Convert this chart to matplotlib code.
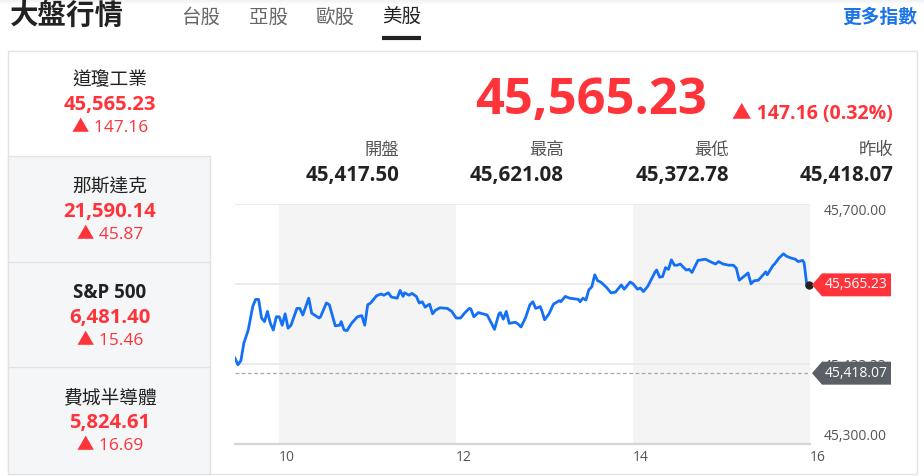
import numpy as np
import matplotlib
matplotlib.use('Agg')
import matplotlib.pyplot as plt
from matplotlib.patches import Rectangle, Polygon

plt.rcParams['font.family'] = ['Noto Sans CJK TC', 'DejaVu Sans']
NUM_FONT = ['Open Sans', 'Noto Sans CJK TC', 'DejaVu Sans']

# ---- data ----
tabs = ['台股', '亞股', '歐股', '美股']
index_names = ['道瓊工業', '那斯達克', 'S&P 500', '費城半導體']
index_values = ['45,565.23', '21,590.14', '6,481.40', '5,824.61']
index_changes = ['147.16', '45.87', '15.46', '16.69']

last_price = 45565.23
change_text = '147.16 (0.32%)'
stat_labels = ['開盤', '最高', '最低', '昨收']
stat_values = [45417.50, 45621.08, 45372.78, 45418.07]
prev_close = 45418.07

# minutes after 9:30 and index level
minutes = [0, 2, 4, 6, 9, 12, 14, 16, 18, 20, 22, 24, 26, 28, 30, 32, 34, 36, 38, 42,
           44, 46, 50, 52, 57, 58, 62, 64, 68, 71, 72, 74, 76, 79, 83, 86, 88, 90, 92, 96,
           99, 101, 104, 106, 110, 112, 114, 115, 118, 120, 123, 125, 127, 129, 130, 132, 134, 136, 139, 144,
           147, 150, 153, 156, 159, 160, 162, 165, 168, 171, 174, 176, 179, 180, 182, 184, 186, 190, 192, 194,
           197, 200, 202, 204, 207, 208, 210, 213, 216, 220, 221, 224, 227, 233, 234, 236, 238, 240, 242, 244,
           246, 248, 252, 255, 258, 262, 264, 268, 270, 273, 275, 277, 280, 285, 286, 288, 290, 292, 294, 296,
           298, 300, 302, 306, 308, 310, 314, 319, 324, 326, 328, 331, 335, 338, 340, 342, 348, 350, 352, 355,
           360, 361, 365, 366, 369, 372, 374, 377, 380, 382, 385, 386, 388, 389]
levels = [45443, 45432, 45439, 45468, 45490, 45529, 45541, 45541, 45510, 45504, 45521, 45501, 45490, 45512, 45512, 45498, 45517, 45493, 45498, 45526,
          45526, 45515, 45543, 45518, 45510, 45512, 45535, 45532, 45497, 45498, 45504, 45490, 45489, 45501, 45512, 45514, 45498, 45532, 45535, 45547,
          45550, 45548, 45552, 45545, 45543, 45556, 45546, 45552, 45548, 45551, 45546, 45535, 45537, 45528, 45530, 45533, 45517, 45523, 45527, 45526,
          45521, 45510, 45510, 45519, 45526, 45525, 45512, 45519, 45517, 45515, 45501, 45491, 45517, 45519, 45508, 45521, 45501, 45503, 45500, 45495,
          45510, 45532, 45537, 45526, 45529, 45523, 45507, 45517, 45533, 45539, 45537, 45546, 45543, 45541, 45537, 45543, 45540, 45557, 45562, 45582,
          45572, 45570, 45561, 45552, 45553, 45565, 45558, 45570, 45567, 45558, 45560, 45554, 45563, 45587, 45590, 45578, 45579, 45594, 45591, 45607,
          45598, 45598, 45600, 45590, 45591, 45586, 45606, 45608, 45602, 45600, 45604, 45600, 45598, 45598, 45593, 45573, 45585, 45567, 45572, 45573,
          45587, 45582, 45598, 45600, 45610, 45617, 45613, 45610, 45608, 45604, 45606, 45602, 45562, 45565.23]

y_ticks = [45300, 45433.33, 45566.67, 45700]
x_ticks = [10, 12, 14, 16]
shaded = [(10, 12), (14, 16)]

RED = '#ff333a'
BLUE = '#1470f5'
DARK = '#222222'
GREY = '#555555'

W, H = 924, 476
fig = plt.figure(figsize=(W / 100, H / 100), dpi=100)

# ---- chart ----
ax = fig.add_axes([235 / W, 32 / H, 575 / W, 240 / H])
hours = 9.5 + np.array(minutes) / 60.0
ax.set_xlim(9.5, 16)
ax.set_ylim(45300, 45700)
for a, b in shaded:
    ax.axvspan(a, b, color='#f4f4f4', lw=0, zorder=0)
for v in y_ticks[1:]:
    ax.axhline(v, color='#e8e8e8', lw=1.2, zorder=1)
ax.axhline(prev_close, color='#aaaaaa', lw=0.9, ls=(0, (3, 2)), zorder=2)
ax.plot(hours, levels, color=BLUE, lw=2, zorder=3, solid_joinstyle='round')
ax.plot(hours[-1], levels[-1], 'o', color=DARK, ms=5, zorder=4, clip_on=False)

for s in ['top', 'left', 'right']:
    ax.spines[s].set_visible(False)
ax.spines['bottom'].set_color('#d4d4dc')
ax.spines['bottom'].set_linewidth(1.6)
ax.set_xticks(x_ticks)
ax.set_xticklabels([str(t) for t in x_ticks], ha='left', family=NUM_FONT)
ax.yaxis.tick_right()
ax.set_yticks(y_ticks)
# the 45,566.67 label sits fully behind the red price tag
ax.set_yticklabels([f'{v:,.2f}' if v != 45566.67 else '' for v in y_ticks], family=NUM_FONT)
ylabels = ax.get_yticklabels()
ylabels[0].set_va('bottom')
ylabels[-1].set_va('top')
ax.tick_params(axis='x', length=0, pad=4, labelsize=10, labelcolor=GREY)
ax.tick_params(axis='y', length=0, pad=10, labelsize=10, labelcolor=GREY)
ax.patch.set_alpha(0)

# ---- page overlay in pixel coordinates (y downwards) ----
ov = fig.add_axes([0, 0, 1, 1], zorder=-1)
ov.set_xlim(0, W)
ov.set_ylim(H, 0)
ov.axis('off')

# top shadow
for i in range(4):
    ov.add_patch(Rectangle((0, i), W, 1, color='#000000', alpha=0.05 - i * 0.012, lw=0))

ov.text(10, 16, '大盤行情', fontsize=20.5, fontweight='bold', color=DARK, va='center', ha='left')
tab_x = [201, 268, 335, 402]
for t, x in zip(tabs, tab_x):
    ov.text(x, 17, t, fontsize=14, color=DARK if t == '美股' else '#666666', va='center', ha='center')
ov.plot([382, 421], [38, 38], color=DARK, lw=3, solid_capstyle='butt')
ov.text(917, 17, '更多指數', fontsize=13.5, fontweight='bold', color='#1a73e8', va='center', ha='right')

# card
ov.add_patch(Rectangle((8, 51), 909, 423, facecolor='white', edgecolor='#e3e3e3', lw=1))
ov.add_patch(Rectangle((8, 156), 202, 318, facecolor='#f5f6f8', edgecolor='#e0e2e6', lw=1))
for y in [262, 367]:
    ov.plot([8, 210], [y, y], color='#e0e2e6', lw=1)

rows_y = [80, 187, 293, 398]
for name, val, chg, y in zip(index_names, index_values, index_changes, rows_y):
    if name == 'S&P 500':
        ov.text(110, y, name, fontsize=13.5, color=DARK, ha='center', va='center',
                fontweight='bold', family=NUM_FONT)
    else:
        ov.text(110, y, name, fontsize=13.5, color=DARK, ha='center', va='center')
    ov.text(110, y + 25, val, fontsize=14.6, fontweight='bold', color=RED, ha='center', va='center',
            family=NUM_FONT)
    ov.text(110, y + 48, '▲ ' + chg, fontsize=12.5, color=RED, ha='center', va='center', family=NUM_FONT)

ov.text(591, 101, f'{last_price:,.2f}', fontsize=36.5, fontweight='bold', color=RED, ha='center', va='center',
        family=NUM_FONT)
ov.text(893, 114, '▲ ' + change_text, fontsize=14, fontweight='bold', color=RED, ha='right', va='center',
        family=NUM_FONT)

col_right = [399, 564, 729, 893]
for lab, val, x in zip(stat_labels, stat_values, col_right):
    ov.text(x, 150, lab, fontsize=12.5, color=GREY, ha='right', va='center')
    ov.text(x, 175, f'{val:,.2f}', fontsize=14.8, fontweight='bold', color=DARK, ha='right', va='center',
            family=NUM_FONT)

# price tags on the right axis
fig.canvas.draw()
def to_px(v):
    disp = ax.transData.transform((16, v))
    return H - disp[1]

tag_ax = fig.add_axes([0, 0, 1, 1], zorder=5)
tag_ax.set_xlim(0, W)
tag_ax.set_ylim(H, 0)
tag_ax.axis('off')
for v, col in [(last_price, RED), (prev_close, '#5a6066')]:
    yc = to_px(v)
    tag_ax.add_patch(Polygon([(812, yc), (822, yc - 11.5), (891, yc - 11.5), (891, yc + 11.5), (822, yc + 11.5)],
                             closed=True, facecolor=col, edgecolor='none'))
    tag_ax.text(856, yc, f'{v:,.2f}', fontsize=10, color='white', ha='center', va='center', family=NUM_FONT)

fig.savefig('out.png', dpi=100)
